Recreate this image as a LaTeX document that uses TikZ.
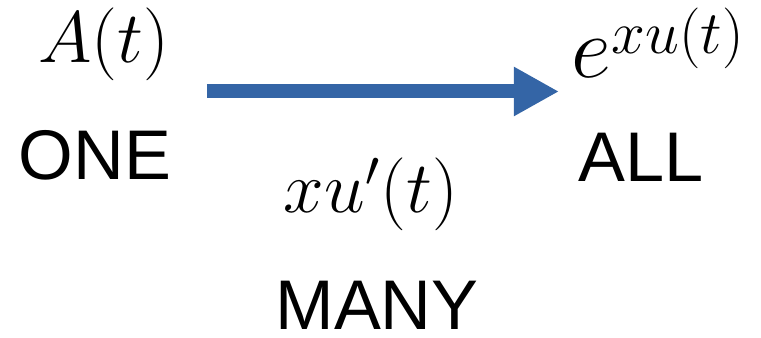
\documentclass[tikz,border=0pt]{standalone}
\usepackage{fontspec}
\setsansfont{Liberation Sans}
\usepackage{amsmath}
\definecolor{arrowblue}{RGB}{52,101,166}
\usetikzlibrary{arrows.meta}

\begin{document}
\begin{tikzpicture}[
    word/.style={anchor=base, inner sep=0pt, font=\fontsize{20}{24}\sffamily},
    formula/.style={anchor=base, inner sep=0pt, font=\fontsize{21}{25}\selectfont}
  ]
    % Fix the page size
    \useasboundingbox (0,0) rectangle (7.61,3.38);

    % Left column
    \node[formula] (At)  at (1.035, 2.75) {$A(t)$};
    \node[word]    (one) at (0.95, 1.58) {ONE};

    % Right column (big base, smaller exponent)
    \node[formula, anchor=base west, font=\fontsize{25}{30}\selectfont] (exp) at (5.71, 2.60)
        {$e^{\raisebox{-0.08cm}{\fontsize{16.8}{20}\selectfont$xu(t)$}}$};
    \node[word]    (all) at (6.41, 1.56) {ALL};

    % Middle column
    \node[formula, font=\fontsize{21.8}{26}\selectfont] (deriv) at (3.71, 1.25) {$xu'(t)$};
    \node[word]    (many)  at (3.77, 0.08) {MANY};

    % The arrow from one to all
    \coordinate (tail) at (2.07, 2.465);
    \coordinate (tip)  at (5.59, 2.465);
    \draw[arrowblue, line width=0.14cm, -{Triangle[length=0.45cm, width=0.46cm]}] (tail) -- (tip);
\end{tikzpicture}
\end{document}
